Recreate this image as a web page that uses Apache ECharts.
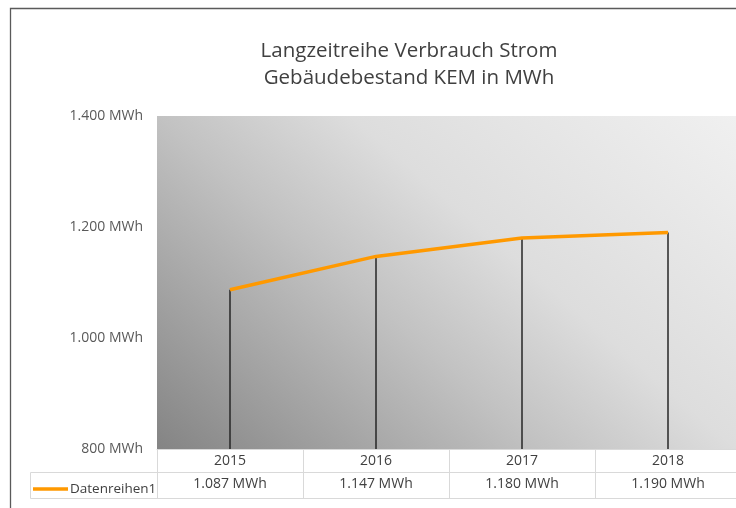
<!DOCTYPE html>
<html>
<head>
<meta charset="utf-8">
<script src="https://cdn.jsdelivr.net/npm/echarts@6/dist/echarts.min.js"></script>
<style>
  html, body { margin: 0; padding: 0; background: #ffffff; overflow: hidden; }
  /* die Zeichenfläche reicht rechts über das Fenster hinaus */
  #chart { width: 760px; height: 508px; }
</style>
</head>
<body>
<div id="chart"></div>
<script>
// Stromverbrauch Gebäudebestand KEM, Jahreswerte in MWh
const years = ['2015', '2016', '2017', '2018'];
const consumption = [1087, 1147, 1180, 1190];
const seriesName = 'Datenreihen1';
const yTicks = [800, 1000, 1200, 1400];

// deutsche Tausendertrennung: 1087 -> "1.087 MWh"
function mwh(v) {
  return String(Math.round(v)).replace(/\B(?=(\d{3})+(?!\d))/g, '.') + ' MWh';
}

const chart = echarts.init(document.getElementById('chart'));
const FONT = 'Open Sans';
const TEXT = '#404040';
const TABLE = '#d9d9d9';

chart.setOption({
  animation: false,
  textStyle: { fontFamily: FONT },
  title: {
    text: 'Langzeitreihe Verbrauch Strom\nGebäudebestand KEM in MWh',
    left: 404,
    top: 33,
    textAlign: 'center',
    textStyle: { fontFamily: FONT, fontSize: 20.5, fontWeight: 'normal', color: TEXT, lineHeight: 27 }
  },
  legend: {
    left: 28,
    top: 477,
    icon: 'rect',
    itemWidth: 35,
    itemHeight: 3.5,
    itemGap: 0,
    textStyle: { fontFamily: FONT, fontSize: 13.5, color: TEXT, padding: [0, 0, 0, -3] },
    data: [{ name: seriesName }]
  },
  grid: {
    left: 157,
    top: 116,
    width: 584,
    height: 333,
    show: true,
    borderWidth: 0,
    backgroundColor: new echarts.graphic.LinearGradient(157, 449, 569, -29, [
      { offset: 0, color: '#848484' },
      { offset: 0.4, color: '#c2c2c2' },
      { offset: 0.6, color: '#dddddd' },
      { offset: 1, color: '#f0f0f0' }
    ], true)
  },
  xAxis: [
    {
      type: 'category',
      data: years,
      position: 'bottom',
      boundaryGap: true,
      axisLine: { show: true, lineStyle: { color: TABLE, width: 1 } },
      axisTick: { show: true, alignWithLabel: false, length: 49, lineStyle: { color: TABLE, width: 1 } },
      axisLabel: { fontFamily: FONT, fontSize: 14, color: TEXT, margin: 5 },
      splitLine: { show: false }
    },
    {
      type: 'category',
      data: years,
      position: 'bottom',
      offset: 23,
      axisLine: { show: true, lineStyle: { color: TABLE, width: 1 } },
      axisTick: { show: false },
      axisLabel: {
        fontFamily: FONT, fontSize: 14, color: TEXT, margin: 5,
        formatter: (v, i) => mwh(consumption[i])
      }
    },
    {
      type: 'category',
      data: years,
      position: 'bottom',
      offset: 49,
      axisLine: { show: true, lineStyle: { color: TABLE, width: 1 } },
      axisTick: { show: false },
      axisLabel: { show: false }
    }
  ],
  yAxis: {
    type: 'value',
    min: yTicks[0],
    max: yTicks[yTicks.length - 1],
    interval: 200,
    axisLine: { show: false },
    axisTick: { show: false },
    splitLine: { show: false },
    axisLabel: { fontFamily: FONT, fontSize: 14, color: '#595959', margin: 14, formatter: mwh }
  },
  series: [
    {
      // Lotlinien von jedem Wert zur Achse
      type: 'bar',
      name: 'lot',
      data: consumption,
      barWidth: 1.5,
      itemStyle: { color: '#262626' },
      z: 2,
      legendHoverLink: false,
      silent: true
    },
    {
      type: 'line',
      name: seriesName,
      data: consumption,
      showSymbol: false,
      symbol: 'none',
      lineStyle: { color: '#ff9900', width: 3.5 },
      itemStyle: { color: '#ff9900' },
      z: 3
    }
  ],
  graphic: [
    // Diagrammrahmen
    { type: 'rect', shape: { x: 10.5, y: 8.5, width: 800, height: 600 },
      style: { fill: null, stroke: '#5a5a5a', lineWidth: 1.3 }, silent: true },
    // linke Tabellenzelle (Legendenschlüssel)
    { type: 'line', shape: { x1: 30.5, y1: 472.5, x2: 157, y2: 472.5 }, style: { stroke: TABLE, lineWidth: 1 } },
    { type: 'line', shape: { x1: 30.5, y1: 498.5, x2: 157, y2: 498.5 }, style: { stroke: TABLE, lineWidth: 1 } },
    { type: 'line', shape: { x1: 30.5, y1: 472.5, x2: 30.5, y2: 498.5 }, style: { stroke: TABLE, lineWidth: 1 } }
  ]
});
</script>
</body>
</html>
